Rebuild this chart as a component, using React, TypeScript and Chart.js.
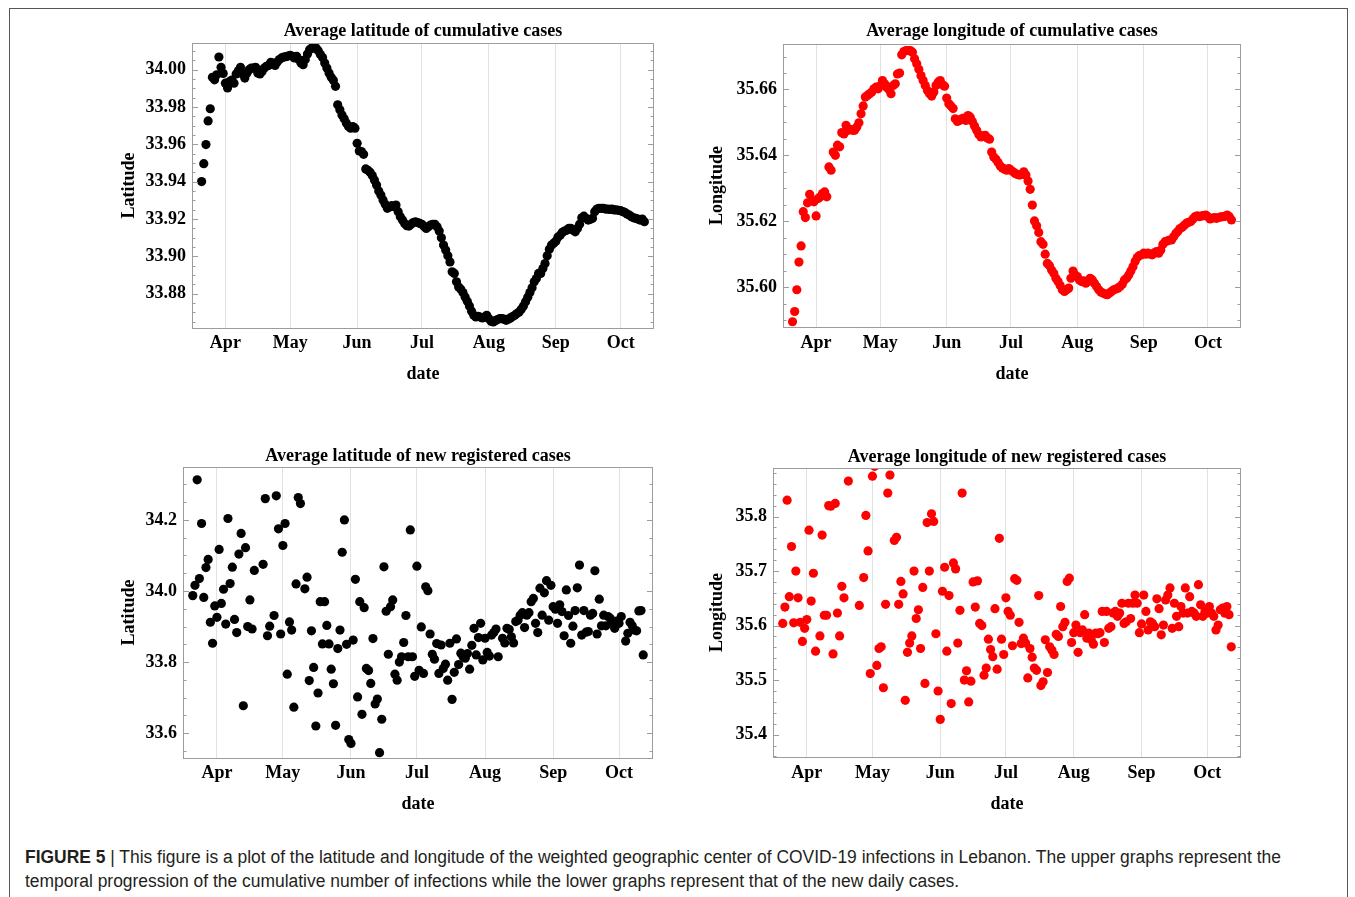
import React, { useEffect, useLayoutEffect, useRef } from "react";
import { Chart, registerables } from "chart.js";

Chart.register(...registerables);

// ---------------- data ----------------
const FIRST_DAY = 20; // day index counted from 1 March 2020 (20 = 21 March)
const monthTickDays = [31, 61, 92, 122, 153, 184, 214];
const monthTickLabels = ["Apr", "May", "Jun", "Jul", "Aug", "Sep", "Oct"];
const dayRange = [15.55, 229.45];

const latCumulative = [
  33.9401, 33.9497, 33.9599, 33.9726, 33.9791, 33.9959, 33.9946, 33.9973, 34.0068, 34.0013,
  33.998, 33.9928, 33.9902, 33.9937, 33.9945, 33.9928, 33.9977, 33.9995, 34.0013, 33.9977,
  33.9955, 33.9982, 34.0, 34.0009, 34.0009, 34.0013, 33.9982, 33.9977, 33.9991, 34.0009,
  34.0018, 34.0023, 34.0039, 34.0036, 34.0023, 34.0041, 34.0054, 34.0063, 34.0068, 34.007,
  34.0073, 34.0077, 34.0072, 34.0063, 34.0072, 34.0054, 34.0036, 34.0027, 34.0054, 34.0084,
  34.0107, 34.0116, 34.0116, 34.0116, 34.0102, 34.0081, 34.0066, 34.0036, 34.0009, 33.9982,
  33.9959, 33.9943, 33.9911, 33.9812, 33.9785, 33.9758, 33.9737, 33.9714, 33.9696, 33.9687,
  33.9696, 33.9687, 33.9606, 33.9565, 33.9562, 33.9547, 33.9469, 33.9461, 33.9451, 33.9433,
  33.941, 33.9383, 33.9351, 33.9329, 33.9302, 33.9279, 33.9258, 33.9265, 33.9272, 33.9267,
  33.9275, 33.924, 33.9213, 33.9195, 33.9177, 33.9165, 33.9163, 33.9172, 33.9182, 33.9186,
  33.9182, 33.9177, 33.9172, 33.9161, 33.915, 33.9159, 33.9168, 33.9172, 33.9172, 33.9159,
  33.9136, 33.91, 33.9061, 33.9034, 33.9004, 33.8971, 33.8918, 33.8909, 33.8864, 33.8837,
  33.8825, 33.8807, 33.8783, 33.876, 33.8735, 33.8707, 33.8685, 33.8676, 33.868, 33.8676,
  33.8671, 33.8676, 33.8685, 33.8667, 33.8653, 33.8649, 33.8656, 33.8662, 33.8667, 33.8667,
  33.8664, 33.8658, 33.8664, 33.8671, 33.8678, 33.8685, 33.8694, 33.8703, 33.8717, 33.8735,
  33.8757, 33.8782, 33.8807, 33.8832, 33.8864, 33.8882, 33.8909, 33.8909, 33.8936, 33.8962,
  33.9004, 33.9039, 33.9061, 33.9071, 33.9082, 33.9104, 33.9114, 33.9129, 33.9136, 33.9141,
  33.915, 33.915, 33.9141, 33.9132, 33.915, 33.9172, 33.9207, 33.9216, 33.9204, 33.9195,
  33.9199, 33.9204, 33.924, 33.9254, 33.9258, 33.9258, 33.9258, 33.9254, 33.9254, 33.9252,
  33.9254, 33.9249, 33.9249, 33.9247, 33.9245, 33.924, 33.9236, 33.9227, 33.9222, 33.9213,
  33.9207, 33.9204, 33.92, 33.9195, 33.92, 33.9186,
];

const lonCumulative = [
  35.5895, 35.5926, 35.5992, 35.6076, 35.6125, 35.6229, 35.6211, 35.6256, 35.6282, 35.6264,
  35.6259, 35.6216, 35.6269, 35.6274, 35.6284, 35.6289, 35.6274, 35.6365, 35.6355, 35.641,
  35.64, 35.6431, 35.6426, 35.6469, 35.6465, 35.6491, 35.6476, 35.6479, 35.6476, 35.6476,
  35.6486, 35.6499, 35.6526, 35.655, 35.6577, 35.6582, 35.6587, 35.6592, 35.6602, 35.6607,
  35.6602, 35.6612, 35.6627, 35.6617, 35.6607, 35.66, 35.6587, 35.6612, 35.6617, 35.6647,
  35.665, 35.6705, 35.6715, 35.6718, 35.6718, 35.6718, 35.6713, 35.6693, 35.6678, 35.6661,
  35.6642, 35.6627, 35.6612, 35.6597, 35.6587, 35.658, 35.6592, 35.6612, 35.6622, 35.6627,
  35.6614, 35.661, 35.6574, 35.6557, 35.655, 35.6542, 35.6511, 35.6503, 35.6506, 35.6511,
  35.6513, 35.6506, 35.6521, 35.6516, 35.6503, 35.6489, 35.6476, 35.6463, 35.6456, 35.6459,
  35.6461, 35.6453, 35.6449, 35.641, 35.6395, 35.6388, 35.6378, 35.6368, 35.6362, 35.6358,
  35.6355, 35.636, 35.6355, 35.635, 35.6345, 35.6342, 35.634, 35.6342, 35.635, 35.634,
  35.6322, 35.6297, 35.6249, 35.6201, 35.6186, 35.6166, 35.6138, 35.613, 35.61, 35.6072,
  35.6065, 35.6052, 35.6042, 35.6027, 35.6017, 35.6005, 35.5992, 35.5987, 35.5992, 35.5997,
  35.6027, 35.6049, 35.6037, 35.6032, 35.6022, 35.6017, 35.6019, 35.6012, 35.6017, 35.6027,
  35.6022, 35.6012, 35.6002, 35.5992, 35.5985, 35.5982, 35.5979, 35.5977, 35.5982, 35.5987,
  35.5992, 35.5994, 35.5997, 35.6002, 35.6009, 35.6022, 35.6027, 35.6037, 35.6049, 35.6062,
  35.6078, 35.609, 35.6096, 35.6098, 35.6103, 35.61, 35.6103, 35.61, 35.6098, 35.6104,
  35.6108, 35.6103, 35.6113, 35.613, 35.6138, 35.614, 35.6143, 35.6143, 35.6153, 35.6163,
  35.617, 35.6178, 35.6182, 35.6188, 35.6194, 35.6197, 35.6199, 35.6207, 35.6214, 35.6216,
  35.6214, 35.6216, 35.6217, 35.6219, 35.6214, 35.6207, 35.6209, 35.6211, 35.6209, 35.6211,
  35.6213, 35.6214, 35.6215, 35.6219, 35.6214, 35.6204,
];

const latNew = [
  33.987, 34.016, 34.313, 34.035, 34.19, 33.982, 34.066, 34.089, 33.912, 33.853,
  33.958, 33.926, 34.117, 33.965, 34.005, 33.907, 34.204, 34.021, 34.067, 33.92,
  33.883, 34.104, 34.162, 33.677, 34.122, 33.9, 33.975, 33.893, 34.058, null,
  null, null, 34.075, 34.26, 33.874, 33.901, null, 33.931, 34.268, 34.175,
  33.879, 34.128, 34.19, 33.766, 33.913, 33.89, 33.673, 34.02, 34.263, 34.246,
  null, 34.006, 34.039, 33.748, 33.888, 33.785, 33.62, 33.713, 33.97, 33.851,
  33.97, 33.903, 33.851, 33.78, 33.739, 33.622, 33.838, 33.89, 34.109, 34.2,
  33.85, 33.582, 33.571, 33.862, 34.033, 33.702, 33.97, 33.653, 33.953, 33.782,
  33.776, 33.74, 33.866, 33.682, 33.696, 33.545, 33.639, 34.068, 33.943, 33.822,
  33.956, 33.975, 33.766, 33.749, 33.8, 33.815, 33.855, 33.931, 33.815, 34.172,
  33.815, 33.76, 34.07, 33.777, 33.899, 33.768, 34.012, 34.001, 33.879, 33.822,
  33.808, 33.852, 33.768, 33.848, 33.782, 33.794, 33.749, 33.853, 33.695, 33.771,
  33.865, 33.793, 33.825, 33.815, 33.811, 33.824, 33.78, 33.847, 33.895, 33.82,
  33.869, 33.909, 33.806, 33.867, 33.827, 33.817, 33.876, 33.883, 33.893, 33.815,
  null, 33.867, 33.854, 33.895, 33.892, 33.871, 33.854, 33.914, 33.918, 33.932,
  33.939, 33.897, 33.932, 33.939, 33.97, 33.979, 33.909, 33.883, 34.008, 33.932,
  33.995, 34.029, 33.918, 34.016, 33.956, 33.949, 33.909, 33.961, 33.942, 33.874,
  34.003, 33.931, 33.853, 33.901, 33.945, 34.009, 34.073, 33.876, 33.945, 33.884,
  33.886, 33.932, 33.937, 34.057, 33.879, 33.977, 33.902, 33.932, 33.902, 33.928,
  33.923, 33.909, 33.895, 33.915, 33.909, 33.928, null, 33.859, 33.881, 33.912,
  33.902, 33.89, 33.888, 33.944, 33.945, 33.82,
];

const lonNew = [
  35.604, 35.634, 35.83, 35.653, 35.745, 35.605, 35.7, 35.651, 35.606, 35.571,
  35.595, 35.611, 35.775, 35.645, 35.696, 35.553, null, 35.581, 35.766, 35.619,
  35.619, 35.82, 35.819, 35.548, 35.824, 35.623, 35.581, 35.672, 35.651, null,
  35.865, null, null, null, null, 35.637, null, 35.688, 35.802, 35.737,
  35.512, 35.874, 35.892, 35.527, 35.558, 35.561, 35.486, 35.639, 35.843, 35.876,
  null, 35.756, 35.762, 35.639, 35.681, 35.658, 35.463, 35.551, 35.568, 35.581,
  35.7, 35.613, 35.629, 35.558, 35.67, 35.494, 35.789, 35.7, 35.805, 35.791,
  35.585, 35.48, 35.428, 35.663, 35.707, 35.553, 35.655, 35.457, 35.715, 35.704,
  35.568, 35.628, 35.843, 35.5, 35.517, 35.46, 35.498, 35.68, 35.634, 35.682,
  35.604, 35.6, 35.509, 35.522, 35.575, 35.556, 35.543, 35.631, 35.52, 35.76,
  35.575, 35.547, 35.651, 35.626, 35.619, 35.563, 35.686, 35.683, 35.606, 35.567,
  35.577, 35.568, 35.504, 35.558, 35.542, 35.522, 35.518, 35.655, 35.49, 35.497,
  35.574, 35.514, 35.561, 35.555, 35.547, 35.584, 35.58, 35.635, 35.598, 35.606,
  35.681, 35.687, 35.569, 35.587, 35.601, 35.551, 35.587, 35.592, 35.62, 35.577,
  35.586, 35.574, 35.566, 35.586, 35.585, 35.587, 35.626, 35.569, 35.626, 35.595,
  35.598, 35.623, 35.626, 35.617, 35.623, 35.641, 35.604, 35.607, 35.641, 35.613,
  35.641, 35.656, 35.641, 35.587, 35.603, 35.656, 35.626, 35.592, 35.607, 35.604,
  35.598, 35.649, 35.631, 35.583, 35.601, 35.647, 35.656, 35.669, 35.595, 35.641,
  35.617, 35.598, 35.635, 35.623, 35.669, 35.623, 35.653, 35.626, 35.623, 35.617,
  35.675, 35.638, 35.617, 35.626, 35.623, 35.635, 35.623, 35.617, 35.592, 35.601,
  35.629, 35.632, 35.623, 35.635, 35.62, 35.561,
];

const latCumTicks = [33.88, 33.9, 33.92, 33.94, 33.96, 33.98, 34.0];
const lonCumTicks = [35.6, 35.62, 35.64, 35.66];
const latNewTicks = [33.6, 33.8, 34.0, 34.2];
const lonNewTicks = [35.4, 35.5, 35.6, 35.7, 35.8];

// ---------------- layout ----------------
const SERIF = '"Liberation Serif", "Times New Roman", Times, serif';
const LABEL_FONT = { family: SERIF, size: 18, weight: "bold" as const, lineHeight: 1.2 };
const LH = 18 * 1.2;
const LEFT_ROOM = 90;
const TOP_ROOM = 40;
const RIGHT_ROOM = 14;
const BOTTOM_ROOM = 62;

type Spec = {
  frame: { l: number; t: number; r: number; b: number };
  title: string;
  titleY: number;
  monthsY: number;
  dateY: number;
  ylabel: string;
  ylabelX: number;
  yMin: number;
  yMax: number;
  ticks: number[];
  decimals: number;
  minorStep: number;
  majorStep: number;
  values: (number | null)[];
  color: string;
};

const panels: Spec[] = [
  {
    frame: { l: 192, t: 43, r: 654, b: 328 },
    title: "Average latitude of cumulative cases",
    titleY: 31, monthsY: 343, dateY: 374, ylabel: "Latitude", ylabelX: 129,
    yMin: 33.8617, yMax: 34.0143, ticks: latCumTicks, decimals: 2,
    minorStep: 0.005, majorStep: 0.02, values: latCumulative, color: "#000000",
  },
  {
    frame: { l: 783, t: 44, r: 1241, b: 327 },
    title: "Average longitude of cumulative cases",
    titleY: 31, monthsY: 343, dateY: 374, ylabel: "Longitude", ylabelX: 717,
    yMin: 35.5879, yMax: 35.6738, ticks: lonCumTicks, decimals: 2,
    minorStep: 0.005, majorStep: 0.02, values: lonCumulative, color: "#ff0000",
  },
  {
    frame: { l: 183, t: 467, r: 653, b: 758 },
    title: "Average latitude of new registered cases",
    titleY: 456, monthsY: 773, dateY: 804, ylabel: "Latitude", ylabelX: 129,
    yMin: 33.53, yMax: 34.349, ticks: latNewTicks, decimals: 1,
    minorStep: 0.05, majorStep: 0.2, values: latNew, color: "#000000",
  },
  {
    frame: { l: 773, t: 468, r: 1241, b: 757 },
    title: "Average longitude of new registered cases",
    titleY: 457, monthsY: 773, dateY: 804, ylabel: "Longitude", ylabelX: 717,
    yMin: 35.359, yMax: 35.889, ticks: lonNewTicks, decimals: 1,
    minorStep: 0.02, majorStep: 0.1, values: lonNew, color: "#ff0000",
  },
];

function geom(s: Spec) {
  const x = s.frame.l - LEFT_ROOM;
  const y = s.frame.t - TOP_ROOM;
  const w = s.frame.r - s.frame.l + LEFT_ROOM + RIGHT_ROOM;
  const h = s.frame.b - s.frame.t + TOP_ROOM + BOTTOM_ROOM;
  return { x, y, w, h };
}

const framePlugin = {
  id: "mmaFrame",
  afterDatasetsDraw(chart: any, _args: any, opts: any) {
    const { ctx, chartArea: a, scales } = chart;
    const ys = scales.y;
    ctx.save();
    ctx.strokeStyle = "#9c9c9c";
    ctx.lineWidth = 1;
    const minor = opts.minorStep;
    const major = opts.majorStep;
    const n0 = Math.ceil(ys.min / minor - 1e-6);
    const n1 = Math.floor(ys.max / minor + 1e-6);
    ctx.beginPath();
    for (let n = n0; n <= n1; n++) {
      const v = n * minor;
      const r = v / major;
      const isMajor = Math.abs(r - Math.round(r)) < 1e-4;
      const len = isMajor ? 6 : 3.5;
      const p = Math.round(ys.getPixelForValue(v)) + 0.5;
      ctx.moveTo(a.left, p);
      ctx.lineTo(a.left + len, p);
      ctx.moveTo(a.right, p);
      ctx.lineTo(a.right - len, p);
    }
    ctx.stroke();
    ctx.strokeRect(Math.round(a.left) + 0.5, Math.round(a.top) + 0.5, Math.round(a.right - a.left) - 1, Math.round(a.bottom - a.top));
    ctx.restore();
  },
};

function buildConfig(s: Spec): any {
  const g = geom(s);
  const titlePadTop = Math.max(0, s.titleY - g.y - LH / 2);
  const titlePadBottom = Math.max(0, TOP_ROOM - LH - titlePadTop);
  const xAxisHeight = g.h - (s.frame.b - g.y);
  const monthPad = s.monthsY - s.frame.b - LH / 2;
  const datePad = g.y + g.h - s.dateY - LH / 2;
  const ylabelPad = s.ylabelX - g.x - LH / 2;
  const points = s.values
    .map((v, i) => (v == null ? null : { x: FIRST_DAY + i, y: v }))
    .filter((p) => p !== null);
  return {
    type: "scatter",
    data: {
      datasets: [
        {
          data: points,
          backgroundColor: s.color,
          borderColor: s.color,
          borderWidth: 0,
          pointRadius: 4.6,
          pointHoverRadius: 4.6,
          showLine: false,
          clip: 0,
        },
      ],
    },
    options: {
      responsive: false,
      maintainAspectRatio: false,
      animation: false,
      events: [],
      layout: { padding: { left: 0, right: RIGHT_ROOM, top: 0, bottom: 0 }, autoPadding: false },
      plugins: {
        legend: { display: false },
        tooltip: { enabled: false },
        title: {
          display: true,
          text: s.title,
          fullSize: false,
          color: "#000",
          font: LABEL_FONT,
          padding: { top: titlePadTop, bottom: titlePadBottom },
        },
        mmaFrame: { minorStep: s.minorStep, majorStep: s.majorStep },
      },
      scales: {
        x: {
          type: "linear",
          position: "bottom",
          min: dayRange[0],
          max: dayRange[1],
          afterBuildTicks: (sc: any) => {
            sc.ticks = monthTickDays.map((v) => ({ value: v }));
          },
          afterFit: (sc: any) => {
            sc.height = xAxisHeight;
            sc.paddingLeft = 0;
            sc.paddingRight = 0;
          },
          ticks: {
            autoSkip: false,
            maxRotation: 0,
            minRotation: 0,
            padding: monthPad,
            color: "#000",
            font: LABEL_FONT,
            callback: (_v: any, i: number) => monthTickLabels[i],
          },
          grid: { display: true, drawOnChartArea: true, drawTicks: false, color: "#e2e2e2", lineWidth: 1 },
          border: { display: false },
          title: { display: true, text: "date", color: "#000", font: LABEL_FONT, padding: { top: 0, bottom: datePad } },
        },
        y: {
          type: "linear",
          position: "left",
          min: s.yMin,
          max: s.yMax,
          afterBuildTicks: (sc: any) => {
            sc.ticks = s.ticks.map((v) => ({ value: v }));
          },
          afterFit: (sc: any) => {
            sc.width = LEFT_ROOM;
            sc.paddingTop = 0;
            sc.paddingBottom = 0;
          },
          ticks: {
            padding: 6,
            color: "#000",
            font: LABEL_FONT,
            callback: (v: any) => Number(v).toFixed(s.decimals),
          },
          grid: { display: false, drawTicks: false, drawOnChartArea: false },
          border: { display: false },
          title: { display: true, text: s.ylabel, color: "#000", font: LABEL_FONT, padding: { top: ylabelPad, bottom: 0 } },
        },
      },
    },
    plugins: [framePlugin],
  };
}

function Panel({ spec }: { spec: Spec }) {
  const ref = useRef<HTMLCanvasElement>(null);
  useEffect(() => {
    const chart = new Chart(ref.current as HTMLCanvasElement, buildConfig(spec));
    return () => chart.destroy();
  }, [spec]);
  const g = geom(spec);
  return (
    <canvas
      ref={ref}
      width={g.w}
      height={g.h}
      style={{ position: "absolute", left: g.x, top: g.y, width: g.w, height: g.h }}
    />
  );
}

const captionLine1 =
  " This figure is a plot of the latitude and longitude of the weighted geographic center of COVID-19 infections in Lebanon. The upper graphs represent the";
const captionLine2 =
  "temporal progression of the cumulative number of infections while the lower graphs represent that of the new daily cases.";

function Caption() {
  const l1 = useRef<HTMLDivElement>(null);
  const l2 = useRef<HTMLDivElement>(null);
  useLayoutEffect(() => {
    const a = l1.current!;
    const b = l2.current!;
    const w = a.getBoundingClientRect().width;
    const s = 1256 / w;
    a.style.transform = `scaleX(${s})`;
    b.style.transform = `scaleX(${s})`;
  }, []);
  const base: React.CSSProperties = {
    position: "absolute",
    left: 25,
    whiteSpace: "nowrap",
    transformOrigin: "0 50%",
    fontFamily: '"Liberation Sans", Arial, sans-serif',
    fontSize: 18,
    lineHeight: "20px",
    color: "#231f20",
  };
  return (
    <>
      <div ref={l1} style={{ ...base, top: 847 }}>
        <b>FIGURE 5</b> |{captionLine1}
      </div>
      <div ref={l2} style={{ ...base, top: 871 }}>
        {captionLine2}
      </div>
    </>
  );
}

export default function App() {
  return (
    <div
      style={{
        position: "absolute",
        left: 0,
        top: 0,
        width: 1355,
        height: 897,
        overflow: "hidden",
        background: "#ffffff",
      }}
    >
      <div
        style={{
          position: "absolute",
          left: 9,
          top: 8,
          width: 1337,
          height: 900,
          borderTop: "1px solid #555",
          borderLeft: "1px solid #555",
          borderRight: "1px solid #555",
        }}
      />
      {panels.map((p, i) => (
        <Panel key={i} spec={p} />
      ))}
      <Caption />
    </div>
  );
}
